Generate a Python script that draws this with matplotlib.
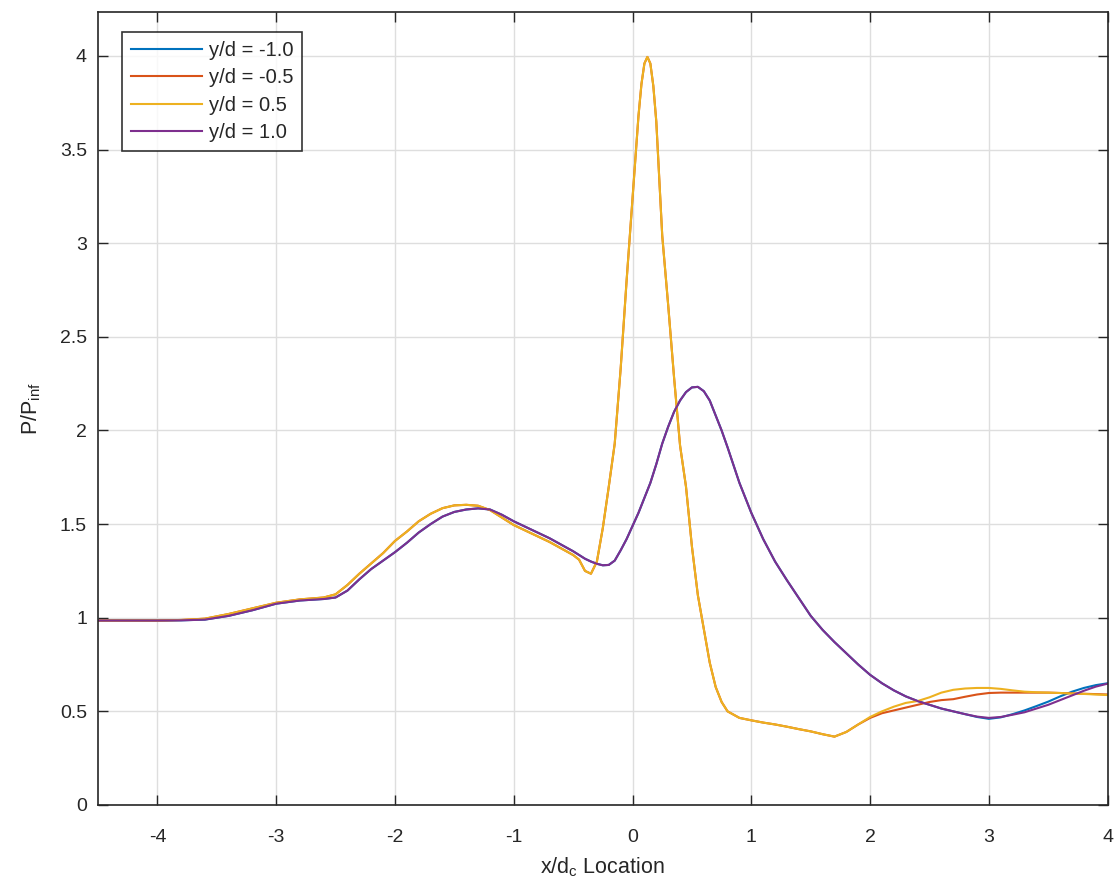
import matplotlib
matplotlib.use("Agg")
import matplotlib.pyplot as plt

# Streamwise positions (x/d_c) shared by all four pressure traces
x_loc = [-4.5, -4.2, -4.0, -3.8, -3.6, -3.4, -3.2, -3.0, -2.8, -2.6, -2.5, -2.4,
         -2.3, -2.2, -2.1, -2.0, -1.9, -1.8, -1.7, -1.6, -1.5, -1.4, -1.3, -1.2,
         -1.1, -1.0, -0.9, -0.8, -0.7, -0.6, -0.5, -0.45, -0.4, -0.35, -0.3, -0.25,
         -0.2, -0.15, -0.1, -0.05, 0.0, 0.05, 0.075, 0.1, 0.125, 0.15, 0.175, 0.2,
         0.25, 0.3, 0.35, 0.4, 0.45, 0.5, 0.55, 0.6, 0.65, 0.7, 0.75, 0.8, 0.9, 1.0,
         1.1, 1.2, 1.3, 1.4, 1.5, 1.6, 1.7, 1.8, 1.9, 2.0, 2.1, 2.2, 2.3, 2.4, 2.5,
         2.6, 2.7, 2.8, 2.9, 3.0, 3.1, 3.2, 3.3, 3.4, 3.5, 3.6, 3.7, 3.8, 3.9, 4.0]

# P/P_inf along y/d = 1.0
p_pos10 = [0.985, 0.985, 0.985, 0.986, 0.990, 1.010, 1.040, 1.075, 1.092, 1.100, 1.108, 1.145,
           1.205, 1.260, 1.305, 1.350, 1.400, 1.455, 1.500, 1.540, 1.565, 1.578, 1.584, 1.578,
           1.550, 1.515, 1.485, 1.455, 1.425, 1.390, 1.355, 1.335, 1.315, 1.300, 1.288, 1.280,
           1.282, 1.305, 1.360, 1.420, 1.490, 1.560, 1.600, 1.640, 1.680, 1.720, 1.770, 1.820,
           1.930, 2.020, 2.100, 2.160, 2.205, 2.230, 2.233, 2.210, 2.160, 2.080, 2.000, 1.910,
           1.720, 1.560, 1.420, 1.300, 1.200, 1.105, 1.010, 0.935, 0.870, 0.810, 0.750, 0.695,
           0.650, 0.612, 0.580, 0.555, 0.535, 0.515, 0.500, 0.485, 0.472, 0.465, 0.470, 0.482,
           0.495, 0.515, 0.535, 0.560, 0.585, 0.610, 0.632, 0.648]

# P/P_inf along y/d = -1.0
p_neg10 = [0.985, 0.985, 0.985, 0.986, 0.990, 1.010, 1.040, 1.075, 1.092, 1.100, 1.108, 1.145,
           1.205, 1.260, 1.305, 1.350, 1.400, 1.455, 1.500, 1.540, 1.565, 1.578, 1.584, 1.578,
           1.550, 1.515, 1.485, 1.455, 1.425, 1.390, 1.355, 1.335, 1.315, 1.300, 1.288, 1.280,
           1.282, 1.305, 1.360, 1.420, 1.490, 1.560, 1.600, 1.640, 1.680, 1.720, 1.770, 1.820,
           1.930, 2.020, 2.100, 2.160, 2.205, 2.230, 2.233, 2.210, 2.160, 2.080, 2.000, 1.910,
           1.720, 1.560, 1.420, 1.300, 1.200, 1.105, 1.010, 0.935, 0.870, 0.810, 0.750, 0.695,
           0.650, 0.612, 0.580, 0.555, 0.535, 0.515, 0.500, 0.485, 0.470, 0.460, 0.468, 0.485,
           0.505, 0.528, 0.552, 0.580, 0.605, 0.625, 0.640, 0.650]

# P/P_inf along y/d = 0.5
p_pos05 = [0.985, 0.985, 0.985, 0.988, 0.995, 1.020, 1.050, 1.080, 1.098, 1.108, 1.125, 1.175,
           1.235, 1.290, 1.345, 1.410, 1.460, 1.515, 1.555, 1.585, 1.600, 1.603, 1.598, 1.575,
           1.535, 1.495, 1.465, 1.435, 1.405, 1.370, 1.335, 1.310, 1.250, 1.235, 1.300, 1.480,
           1.700, 1.930, 2.330, 2.800, 3.240, 3.680, 3.850, 3.960, 3.995, 3.960, 3.840, 3.650,
           3.040, 2.670, 2.280, 1.920, 1.700, 1.380, 1.120, 0.940, 0.760, 0.630, 0.550, 0.500,
           0.465, 0.452, 0.440, 0.430, 0.418, 0.405, 0.393, 0.378, 0.365, 0.390, 0.430, 0.470,
           0.500, 0.525, 0.545, 0.555, 0.575, 0.600, 0.615, 0.622, 0.625, 0.625, 0.620, 0.612,
           0.605, 0.602, 0.600, 0.598, 0.595, 0.593, 0.590, 0.587]

# P/P_inf along y/d = -0.5
p_neg05 = [0.985, 0.985, 0.985, 0.988, 0.995, 1.020, 1.050, 1.080, 1.098, 1.108, 1.125, 1.175,
           1.235, 1.290, 1.345, 1.410, 1.460, 1.515, 1.555, 1.585, 1.600, 1.603, 1.598, 1.575,
           1.535, 1.495, 1.465, 1.435, 1.405, 1.370, 1.335, 1.310, 1.250, 1.235, 1.300, 1.480,
           1.700, 1.930, 2.330, 2.800, 3.240, 3.680, 3.850, 3.960, 3.995, 3.960, 3.840, 3.650,
           3.040, 2.670, 2.280, 1.920, 1.700, 1.380, 1.120, 0.940, 0.760, 0.630, 0.550, 0.500,
           0.465, 0.452, 0.440, 0.430, 0.418, 0.405, 0.393, 0.378, 0.365, 0.390, 0.430, 0.465,
           0.490, 0.505, 0.520, 0.535, 0.550, 0.560, 0.565, 0.578, 0.590, 0.598, 0.600, 0.600,
           0.600, 0.600, 0.600, 0.598, 0.596, 0.594, 0.592, 0.590]

series_labels = ["y/d = -1.0", "y/d = -0.5", "y/d = 0.5", "y/d = 1.0"]
series_colors = ["#0072BD", "#D95319", "#EDB120", "#7E2F8E"]
x_ticks = [-4, -3, -2, -1, 0, 1, 2, 3, 4]
y_ticks = [0, 0.5, 1, 1.5, 2, 2.5, 3, 3.5, 4]

plt.rcParams["font.family"] = ["Liberation Sans", "DejaVu Sans"]
text_gray = "#262626"

fig = plt.figure(figsize=(11.2, 8.88), dpi=100)
ax = fig.add_axes([0.0875, 0.0935, 0.9015, 0.893])

for yv, lab, col in zip([p_neg10, p_neg05, p_pos05, p_pos10], series_labels, series_colors):
    ax.plot(x_loc, yv, color=col, lw=1.5, label=lab)

ax.set_xlim(-4.5, 4)
ax.set_ylim(0, 4.235)
ax.set_xticks(x_ticks)
ax.set_xticklabels([f"{t:g}" for t in x_ticks])
ax.set_yticks(y_ticks)
ax.set_yticklabels([f"{t:g}" for t in y_ticks])
ax.grid(True, color="#dedede", lw=1.0)
ax.set_axisbelow(True)

ax.tick_params(direction="in", length=7, width=1.0, colors=text_gray,
               labelsize=14, top=True, right=True)
ax.tick_params(axis="x", pad=17)
ax.tick_params(axis="y", pad=8)
for sp in ax.spines.values():
    sp.set_color(text_gray)
    sp.set_linewidth(1.2)

ax.set_xlabel(r"x/d$_\mathregular{c}$ Location", fontsize=15.5, color=text_gray, labelpad=7)
ax.set_ylabel(r"P/P$_\mathregular{inf}$", fontsize=15.5, color=text_gray, labelpad=12)

leg = ax.legend(loc="upper left", bbox_to_anchor=(0.0238, 0.975), borderaxespad=0,
                fontsize=14.5, frameon=True, fancybox=False, handlelength=3.5,
                handletextpad=0.35, labelspacing=0.42, borderpad=0.45)
leg.get_frame().set_edgecolor("black")
leg.get_frame().set_linewidth(1.2)
for t in leg.get_texts():
    t.set_color(text_gray)

fig.savefig("out.png", dpi=100)
